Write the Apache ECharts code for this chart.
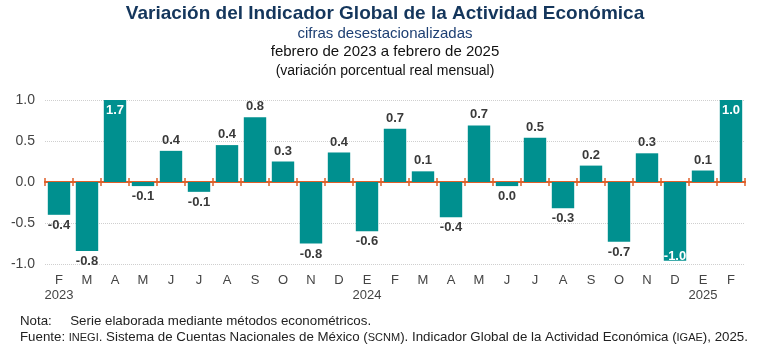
<!DOCTYPE html>
<html>
<head>
<meta charset="utf-8">
<script src="https://cdn.jsdelivr.net/npm/echarts@6/dist/echarts.min.js"></script>
<style>
  html, body { margin: 0; padding: 0; background: #fff; }
  #main { width: 770px; height: 351px; }
</style>
</head>
<body>
<div id="main"></div>
<script>
var myChart = echarts.init(document.getElementById('main'));

// meses feb 2023 - feb 2025
const meses = ['F', 'M', 'A', 'M', 'J', 'J', 'A', 'S', 'O', 'N', 'D', 'E',
               'F', 'M', 'A', 'M', 'J', 'J', 'A', 'S', 'O', 'N', 'D', 'E', 'F']
const anios = { 0: '2023', 11: '2024', 23: '2025' }
// altura de cada barra (variación %)
const valores = [-0.40, -0.84, 1.70, -0.05, 0.38, -0.12, 0.45, 0.79, 0.25, -0.75, 0.36, -0.60,
                 0.65, 0.13, -0.43, 0.69, -0.05, 0.54, -0.32, 0.20, -0.73, 0.35, -0.96, 0.14, 1.00]
// etiquetas publicadas (redondeadas)
const etiquetas = ['-0.4', '-0.8', '1.7', '-0.1', '0.4', '-0.1', '0.4', '0.8', '0.3', '-0.8', '0.4', '-0.6',
                   '0.7', '0.1', '-0.4', '0.7', '0.0', '0.5', '-0.3', '0.2', '-0.7', '0.3', '-1.0', '0.1', '1.0']
const yTicks = [-1.0, -0.5, 0.0, 0.5, 1.0]

const fuente = 'Liberation Sans, Arial, sans-serif'
const naranja = '#e0602a'
const dataList = valores.map(function (v, i) {
    var lab = { show: true, formatter: etiquetas[i] }
    if (v >= 1.0) {
        lab.position = 'insideTop'; lab.color = '#ffffff'; lab.distance = 4
    } else if (v <= -0.95) {
        lab.position = 'insideBottom'; lab.color = '#ffffff'; lab.distance = -2
    } else if (v >= 0) {
        lab.position = 'top'
    } else {
        lab.position = 'bottom'
    }
    return { value: v, label: lab }
})

option = {
    animation: false,
    title: [
        { text: 'Variación del Indicador Global de la Actividad Económica', left: 'center', top: -1,
          textStyle: { fontFamily: fuente, fontSize: 19, fontWeight: 'bold', color: '#14365c' } },
        { text: 'cifras desestacionalizadas', left: 'center', top: 21,
          textStyle: { fontFamily: fuente, fontSize: 15, fontWeight: 'normal', color: '#1d3f73' } },
        { text: 'febrero de 2023 a febrero de 2025', left: 'center', top: 39,
          textStyle: { fontFamily: fuente, fontSize: 15, fontWeight: 'normal', color: '#111' } },
        { text: '(variación porcentual real mensual)', left: 'center', top: 59,
          textStyle: { fontFamily: fuente, fontSize: 14, fontWeight: 'normal', color: '#111' } }
    ],
    graphic: [
        { type: 'text', left: 20, top: 315,
          style: { text: 'Nota:     Serie elaborada mediante métodos econométricos.', font: '13.3px ' + fuente, fill: '#222' } },
        { type: 'text', left: 20, top: 331,
          style: {
              text: 'Fuente: {s|INEGI}. Sistema de Cuentas Nacionales de México ({s|SCNM}). Indicador Global de la Actividad Económica ({s|IGAE}), 2025.',
              font: '13.3px ' + fuente, fill: '#222',
              rich: { s: { fontSize: 11, fontFamily: fuente, fill: '#222' } }
          } }
    ],
    grid: { left: 45, right: 25, top: 100, bottom: 87 },
    xAxis: [
        {
            type: 'category', data: meses, position: 'bottom',
            axisLine: { onZero: true, onZeroAxisIndex: 0, lineStyle: { color: naranja, width: 2 } },
            axisTick: { show: true, length: 4, lineStyle: { color: naranja, width: 1.5 } },
            axisLabel: { show: false }
        },
        {
            type: 'category', data: meses, position: 'bottom',
            axisLine: { onZero: true, onZeroAxisIndex: 1, show: true, lineStyle: { color: naranja, width: 2 } },
            axisTick: { show: true, inside: true, length: 4, lineStyle: { color: naranja, width: 1.5 } },
            axisLabel: { show: false }
        },
        {
            type: 'category', data: meses, position: 'bottom',
            axisLine: { onZero: false, show: false },
            axisTick: { show: false },
            axisLabel: {
                interval: 0, margin: 9, fontFamily: fuente, fontSize: 13, color: '#444', lineHeight: 15,
                formatter: function (v, i) { return anios[i] ? v + '\n' + anios[i] : v }
            }
        }
    ],
    yAxis: [
        {
            type: 'value', min: -1.0, max: 1.0, interval: 0.5,
            axisLine: { show: false }, axisTick: { show: false },
            axisLabel: {
                margin: 10, fontFamily: fuente, fontSize: 14, color: '#444',
                formatter: function (v) { return yTicks.indexOf(v) >= 0 ? v.toFixed(1) : '' }
            },
            splitLine: { lineStyle: { color: '#cfcfcf', type: 'dotted', width: 1 } }
        },
        {
            type: 'value', min: -1.0, max: 1.0, interval: 0.5, position: 'right',
            axisLine: { show: false }, axisTick: { show: false },
            axisLabel: { show: false }, splitLine: { show: false }
        }
    ],
    series: [{
        type: 'bar', xAxisIndex: 0, yAxisIndex: 0, data: dataList, barCategoryGap: '20%', clip: true,
        itemStyle: { color: '#00908f' },
        label: { fontFamily: fuente, fontSize: 13, fontWeight: 'bold', color: '#3a3a3a', distance: 4 }
    }]
};

myChart.setOption(option);
</script>
</body>
</html>
